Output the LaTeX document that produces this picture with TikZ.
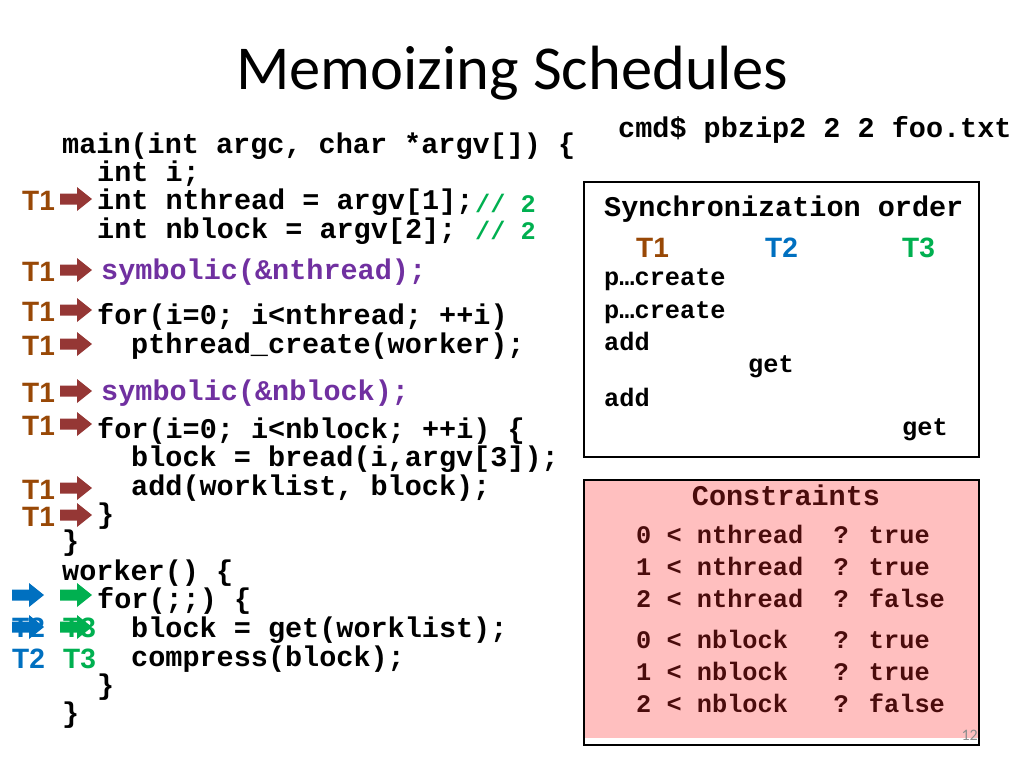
\documentclass[tikz,border=0pt]{standalone}
\usepackage{fontspec}
\newfontfamily\codefont{Liberation Mono}
\newfontfamily\labfont{Liberation Sans}
\newfontfamily\titlefont{Carlito}
\definecolor{tone}{HTML}{984806}
\definecolor{ttwo}{HTML}{0070C0}
\definecolor{tthree}{HTML}{00B050}
\definecolor{arrred}{HTML}{953735}
\definecolor{purp}{HTML}{7030A0}
\definecolor{pinkfill}{HTML}{FFBFBF}
\definecolor{maroon}{HTML}{4A0C0C}
\tikzset{
  code/.style={anchor=base west, inner sep=0pt, font=\codefont\bfseries\fontsize{28.5}{34}\selectfont},
  smallcode/.style={anchor=base west, inner sep=0pt, font=\codefont\bfseries\fontsize{25.3}{30}\selectfont},
  tlab/.style={anchor=base west, inner sep=0pt, font=\labfont\bfseries\fontsize{28}{32}\selectfont},
  blockarrow/.pic={\fill (0,-5.5) -- (17,-5.5) -- (17,-12) -- (32,0) -- (17,12) -- (17,5.5) -- (0,5.5) -- cycle;},
}
\begin{document}
\begin{tikzpicture}[x=1pt,y=-1pt]
\useasboundingbox (0,0) rectangle (1024,768);
% title
\node[font=\titlefont\fontsize{62.5}{70}\selectfont, anchor=base, inner sep=0pt] (title) at (512,89) {Memoizing Schedules};
% code
\node[code] (c1) at (62,153) {main(int argc, char *argv[]) \{};
\node[code] (c2) at (97,181) {int i;};
\node[code] (c3) at (97,209) {int nthread = argv[1];};
\node[smallcode, tthree] (cm1) at (475,212) {// 2};
\node[code] (c4) at (97,238) {int nblock = argv[2];};
\node[smallcode, tthree] (cm2) at (475,239) {// 2};
\node[code, purp] (c5) at (101,279) {symbolic(\&nthread);};
\node[code] (c6) at (97,324) {for(i=0; i<nthread; ++i)};
\node[code] (c7) at (131,353) {pthread\_create(worker);};
\node[code, purp] (c8) at (101,400) {symbolic(\&nblock);};
\node[code] (c9) at (97,438) {for(i=0; i<nblock; ++i) \{};
\node[code] (c10) at (131,466) {block = bread(i,argv[3]);};
\node[code] (c11) at (131,495) {add(worklist, block);};
\node[code] (c12) at (97,523) {\}};
\node[code] (c13) at (62,550) {\}};
\node[code] (c14) at (62,580) {worker() \{};
\node[code] (c15) at (97,608) {for(;;) \{};
\node[code] (c16) at (131,637) {block = get(worklist);};
\node[code] (c17) at (131,666) {compress(block);};
\node[code] (c18) at (97,694) {\}};
\node[code] (c19) at (62,722) {\}};
% T1 markers
\foreach \yy [count=\i] in {200,271,311,345,392,425,489,516}{
  \node[tlab, tone] (tl\i) at (22,\yy+10) {T1};
  \pic[arrred] (ta\i) at (60,\yy-1) {blockarrow};
}
% worker markers
\pic[ttwo] (ba1) at (12,595) {blockarrow};
\pic[tthree] (ga1) at (60,595) {blockarrow};
\node[tlab, ttwo] (bl2) at (12,637) {T2};
\node[tlab, tthree] (gl2) at (63,637) {T3};
\pic[ttwo] (ba2) at (12,627) {blockarrow};
\pic[tthree] (ga2) at (60,627) {blockarrow};
\node[tlab, ttwo] (bl3) at (12,668) {T2};
\node[tlab, tthree] (gl3) at (63,668) {T3};
% command
\node[code] (cmd) at (618,137) {cmd\$ pbzip2 2 2 foo.txt};
% sync box
\draw[line width=2pt] (584,182) rectangle (979,457);
\node[code] (sh) at (604,216) {Synchronization order};
\node[tlab, tone] (s1) at (636,257) {T1};
\node[tlab, ttwo] (s2) at (765,257) {T2};
\node[tlab, tthree] (s3) at (902,257) {T3};
\node[smallcode] (e1) at (604,285) {p…create};
\node[smallcode] (e2) at (604,318) {p…create};
\node[smallcode] (e3) at (604,350) {add};
\node[smallcode] (e4) at (748,372) {get};
\node[smallcode] (e5) at (604,406) {add};
\node[smallcode] (e6) at (902,435) {get};
% constraints box
\fill[pinkfill] (584,480) rectangle (979,738);
\node[anchor=base east, inner sep=0pt, text=black!45, font=\titlefont\fontsize{16}{18}\selectfont] (pg) at (978,740) {12};
\draw[line width=2pt] (584,480) rectangle (979,745);
\node[code, anchor=base, maroon] (ch) at (786,505) {Constraints};
\node[smallcode, maroon] (k1) at (636,543) {0 < nthread~~? true};
\node[smallcode, maroon] (k2) at (636,575) {1 < nthread~~? true};
\node[smallcode, maroon] (k3) at (636,607) {2 < nthread~~? false};
\node[smallcode, maroon] (k4) at (636,648) {0 < nblock~~~? true};
\node[smallcode, maroon] (k5) at (636,680) {1 < nblock~~~? true};
\node[smallcode, maroon] (k6) at (636,712) {2 < nblock~~~? false};
\end{tikzpicture}
\end{document}
